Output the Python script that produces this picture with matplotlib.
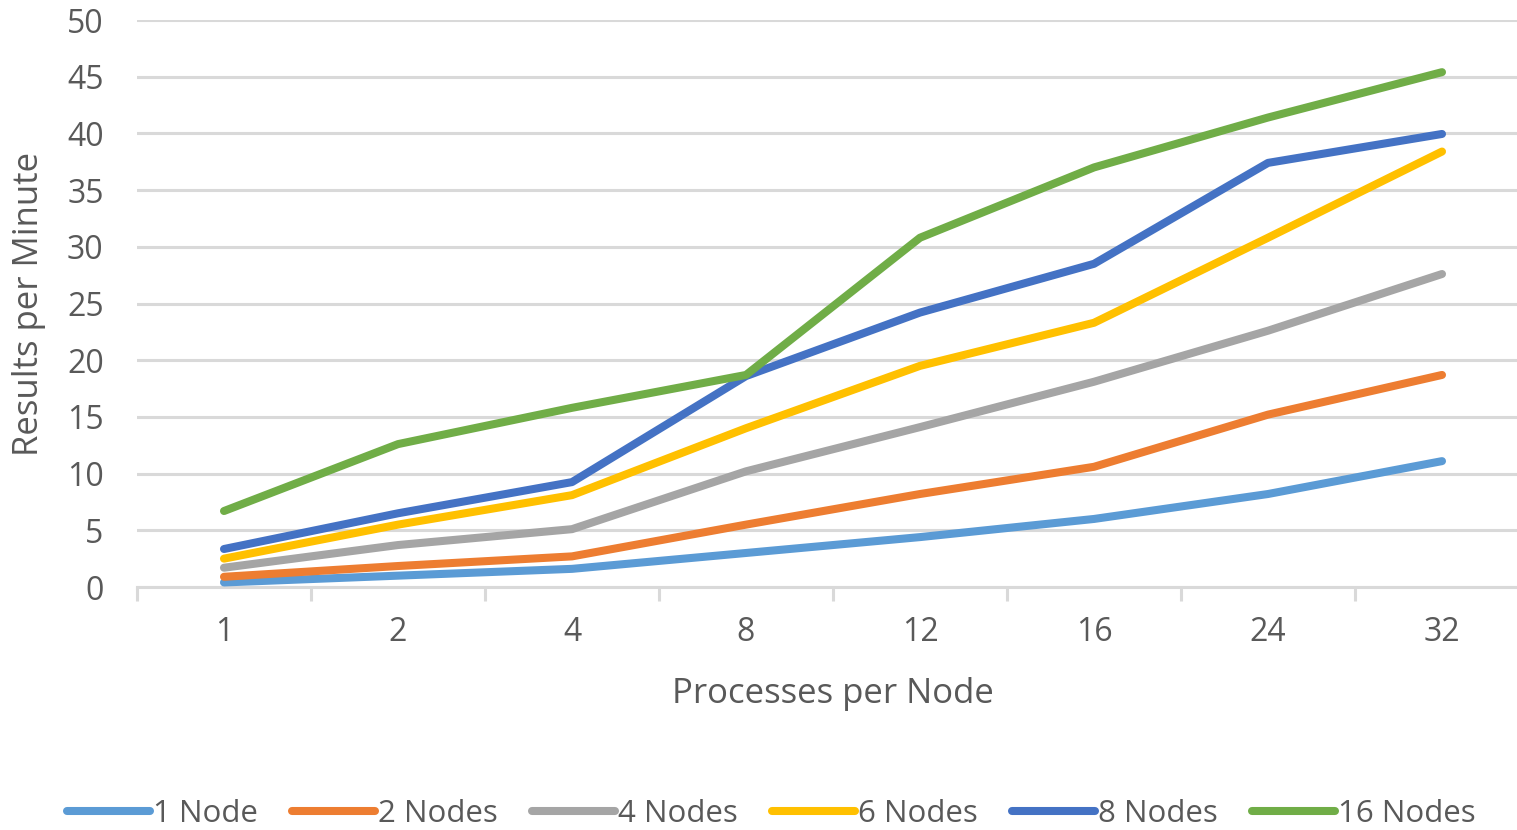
import matplotlib.pyplot as plt
import numpy as np

plt.rcParams['font.family'] = ['Open Sans', 'DejaVu Sans']

procs = ['1', '2', '4', '8', '12', '16', '24', '32']
labels = ['1 Node', '2 Nodes', '4 Nodes', '6 Nodes', '8 Nodes', '16 Nodes']
colors = ['#5b9bd5', '#ed7d31', '#a5a5a5', '#ffc000', '#4472c4', '#70ad47']

node1 = [0.4, 1.0, 1.6, 3.0, 4.4, 6.0, 8.2, 11.1]
node2 = [0.9, 1.85, 2.7, 5.5, 8.2, 10.6, 15.2, 18.7]
node4 = [1.7, 3.7, 5.1, 10.2, 14.1, 18.1, 22.6, 27.6]
node6 = [2.5, 5.5, 8.1, 14.0, 19.5, 23.3, 30.8, 38.4]
node8 = [3.35, 6.5, 9.25, 18.6, 24.2, 28.5, 37.4, 39.95]
node16 = [6.7, 12.6, 15.8, 18.7, 30.8, 37.0, 41.4, 45.4]
series = [node1, node2, node4, node6, node8, node16]

fig = plt.figure(figsize=(15.17, 8.30), dpi=100)
ax = fig.add_axes([137/1517, 1 - 587/830, 1392/1517, 567/830])

x = np.arange(len(procs))
for vals, lab, col in zip(series, labels, colors):
    ax.plot(x, vals, color=col, lw=5.8, solid_capstyle='round',
            solid_joinstyle='round', label=lab, zorder=3)

ax.set_xlim(-0.5, len(procs) - 0.5)
ax.set_ylim(0, 50)
ax.set_yticks(np.arange(0, 51, 5))
ax.yaxis.grid(True, color='#d9d9d9', lw=2.2)
ax.set_axisbelow(True)

# category boundary ticks below the axis
ax.set_xticks(x)
ax.set_xticklabels(procs)
ax.set_xticks(np.arange(-0.5, len(procs), 1), minor=True)
ax.tick_params(axis='x', which='major', length=0, pad=21,
               labelsize=23, labelcolor='#595959')
ax.tick_params(axis='x', which='minor', length=10, width=2.2, color='#d9d9d9')
ax.tick_params(axis='y', length=0, pad=24, labelsize=23, labelcolor='#595959')

for s in ['top', 'right', 'left']:
    ax.spines[s].set_visible(False)
ax.spines['bottom'].set_color('#d9d9d9')
ax.spines['bottom'].set_linewidth(2.2)

ax.set_xlabel('Processes per Node', fontsize=25, color='#595959')
ax.set_ylabel('Results per Minute', fontsize=25, color='#595959')
ax.xaxis.set_label_coords(696/1392, -90/567)
ax.yaxis.set_label_coords(-91/1392, 0.5)

fig.legend(loc='center', bbox_to_anchor=(0.5 + 13/1517, 1 - 814/830), ncol=6,
           frameon=False, handlelength=2.65, handletextpad=0.1,
           columnspacing=1.1, fontsize=22.5, labelcolor='#595959')

fig.savefig('out.png', dpi=100)
